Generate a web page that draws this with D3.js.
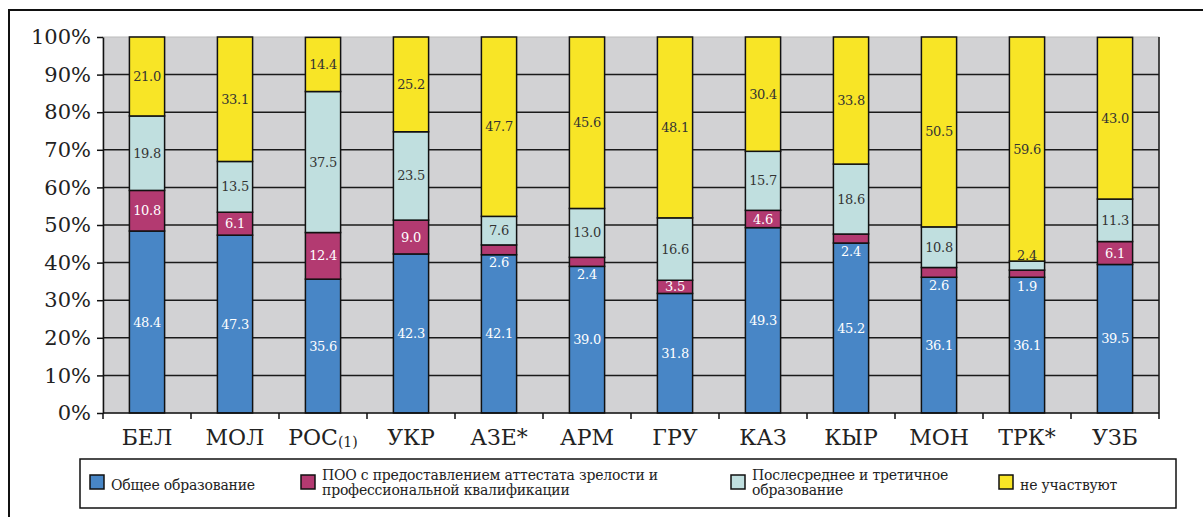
<!DOCTYPE html>
<html>
<head>
<meta charset="utf-8">
<script src="https://cdn.jsdelivr.net/npm/d3@7"></script>
<style>
  body { margin: 0; background: white; }
  svg { display: block; }
</style>
</head>
<body>
<svg id="plot"></svg>
<script>
// Data (shares, %)
const countries = ["БЕЛ", "МОЛ", "РОС", "УКР", "АЗЕ*", "АРМ", "ГРУ", "КАЗ", "КЫР", "МОН", "ТРК*", "УЗБ"];
const general     = [48.4, 47.3, 35.6, 42.3, 42.1, 39.0, 31.8, 49.3, 45.2, 36.1, 36.1, 39.5];
const vocational  = [10.8, 6.1, 12.4, 9.0, 2.6, 2.4, 3.5, 4.6, 2.4, 2.6, 1.9, 6.1];
const postSecond  = [19.8, 13.5, 37.5, 23.5, 7.6, 13.0, 16.6, 15.7, 18.6, 10.8, 2.4, 11.3];
const notInvolved = [21.0, 33.1, 14.4, 25.2, 47.7, 45.6, 48.1, 30.4, 33.8, 50.5, 59.6, 43.0];
const yTicks = [0, 10, 20, 30, 40, 50, 60, 70, 80, 90, 100];

const seriesNames = [
  ["Общее образование"],
  ["ПОО с предоставлением аттестата зрелости и", "профессиональной квалификации"],
  ["Послесреднее и третичное", "образование"],
  ["не участвуют"]
];
const keys = ["general", "vocational", "postSecond", "notInvolved"];
const colors = ["#4886c6", "#b33a71", "#c0dfdf", "#f8e526"];
const labelColors = ["#ffffff", "#ffffff", "#333333", "#333333"];

const rows = countries.map((c, i) => ({
  country: c,
  general: general[i],
  vocational: vocational[i],
  postSecond: postSecond[i],
  notInvolved: notInvolved[i]
}));

// chart text: DejaVu Serif (only serif face that reliably resolves here)
const serif = '"DejaVu Serif"';

let width = 1203, height = 517;
let margin = { top: 37, bottom: 104, left: 103, right: 44 };

let svg = d3.select('#plot')
  .attr('width', width)
  .attr('height', height)
  .style('background', 'white');

// outer frame
svg.append('rect')
  .attr('x', 9).attr('y', 10)
  .attr('width', 1210).attr('height', 530)
  .attr('fill', 'none')
  .attr('stroke', '#111')
  .attr('stroke-width', 2);

// scales
let xCell = d3.scaleBand()
  .domain(countries)
  .range([margin.left, width - margin.right]);

let x = d3.scaleBand()
  .domain(countries)
  .range([margin.left, width - margin.right])
  .paddingInner(0.6)
  .paddingOuter(0.3);

let y = d3.scaleLinear()
  .domain([0, 100])
  .range([height - margin.bottom, margin.top]);

// plot background
svg.append('rect')
  .attr('x', margin.left)
  .attr('y', y(100))
  .attr('width', width - margin.right - margin.left)
  .attr('height', y(0) - y(100))
  .attr('fill', '#d2d2d4')
  .attr('stroke', '#bbbbbb');

// grid lines
svg.append('g')
  .selectAll('line')
  .data(yTicks.filter(d => d > 0 && d < 100))
  .enter()
  .append('line')
  .attr('x1', margin.left)
  .attr('x2', width - margin.right)
  .attr('y1', d => y(d))
  .attr('y2', d => y(d))
  .attr('stroke', '#1a1a1a')
  .attr('stroke-width', 1.5);

// right border of plot
svg.append('line')
  .attr('x1', width - margin.right).attr('x2', width - margin.right)
  .attr('y1', y(100)).attr('y2', y(0))
  .attr('stroke', '#1a1a1a')
  .attr('stroke-width', 1.5);

// stacked bars
const stacked = d3.stack().keys(keys)(rows);

let layers = svg.append('g')
  .selectAll('g')
  .data(stacked)
  .enter()
  .append('g')
  .attr('fill', (d, i) => colors[i]);

layers.selectAll('rect')
  .data(d => d)
  .enter()
  .append('rect')
  .attr('x', d => x(d.data.country))
  .attr('y', d => y(d[1]))
  .attr('width', x.bandwidth())
  .attr('height', d => y(d[0]) - y(d[1]))
  .attr('stroke', '#111')
  .attr('stroke-width', 1.5);

// value labels (small segments are nudged out of the way)
stacked.forEach((layer, li) => {
  svg.append('g')
    .selectAll('text')
    .data(layer)
    .enter()
    .append('text')
    .attr('x', d => x(d.data.country) + x.bandwidth() / 2)
    .attr('y', d => {
      let v = d[1] - d[0];
      let cy = (y(d[0]) + y(d[1])) / 2;
      if (v < 3 && li === 1) cy += 13;
      if (v < 3 && li === 2) cy -= 10;
      return cy;
    })
    .attr('dy', '0.35em')
    .attr('text-anchor', 'middle')
    .attr('font-family', serif)
    .attr('font-size', 13)
    .attr('letter-spacing', -0.3)
    .attr('fill', labelColors[li])
    .text(d => (d[1] - d[0]).toFixed(1));
});

// y axis
let yAxis = svg.append('g')
  .attr('transform', `translate(${margin.left}, 0)`)
  .call(d3.axisLeft(y).tickValues(yTicks).tickFormat(d => d + '%').tickSize(6).tickSizeOuter(0))
  .attr('font-family', serif)
  .attr('font-size', 21);

yAxis.select('.domain').attr('stroke', '#111').attr('stroke-width', 1.5);
yAxis.selectAll('.tick line').attr('stroke', '#111').attr('stroke-width', 1.5);
yAxis.selectAll('.tick text')
  .attr('x', -12)
  .attr('fill', '#222');

// x axis line and boundary ticks
svg.append('line')
  .attr('x1', margin.left).attr('x2', width - margin.right)
  .attr('y1', y(0)).attr('y2', y(0))
  .attr('stroke', '#111')
  .attr('stroke-width', 1.5);

svg.append('g')
  .selectAll('line')
  .data(countries.map(c => xCell(c)).concat([width - margin.right]))
  .enter()
  .append('line')
  .attr('x1', d => d).attr('x2', d => d)
  .attr('y1', y(0)).attr('y2', y(0) + 6)
  .attr('stroke', '#111')
  .attr('stroke-width', 1.5);

let xLabels = svg.append('g')
  .selectAll('text')
  .data(countries)
  .enter()
  .append('text')
  .attr('x', d => x(d) + x.bandwidth() / 2)
  .attr('y', 445)
  .attr('text-anchor', 'middle')
  .attr('font-family', serif)
  .attr('font-size', 22)
  .attr('fill', '#222')
  .text(d => d);

// footnote marker on РОС
xLabels.filter(d => d === 'РОС')
  .append('tspan')
  .attr('dy', 2)
  .attr('font-size', 14)
  .text('(1)');

// legend
svg.append('rect')
  .attr('x', 80).attr('y', 459)
  .attr('width', 1096).attr('height', 49)
  .attr('fill', 'white')
  .attr('stroke', '#111')
  .attr('stroke-width', 1.5);

const legendX = [90, 301, 731, 999];

let legend = svg.append('g')
  .selectAll('g')
  .data(seriesNames)
  .enter()
  .append('g')
  .attr('transform', (d, i) => `translate(${legendX[i]}, 0)`);

legend.append('rect')
  .attr('x', 0).attr('y', 475)
  .attr('width', 14).attr('height', 14)
  .attr('fill', (d, i) => colors[i])
  .attr('stroke', '#111')
  .attr('stroke-width', 1.5);

legend.append('text')
  .attr('x', 21)
  .attr('font-family', serif)
  .attr('font-size', 14)
  .attr('letter-spacing', -0.2)
  .attr('fill', '#222')
  .each(function(d) {
    let t = d3.select(this);
    let y0 = d.length === 1 ? 490 : 480;
    d.forEach((line, k) => {
      t.append('tspan').attr('x', 21).attr('y', y0 + k * 15).text(line);
    });
  });
</script>
</body>
</html>
